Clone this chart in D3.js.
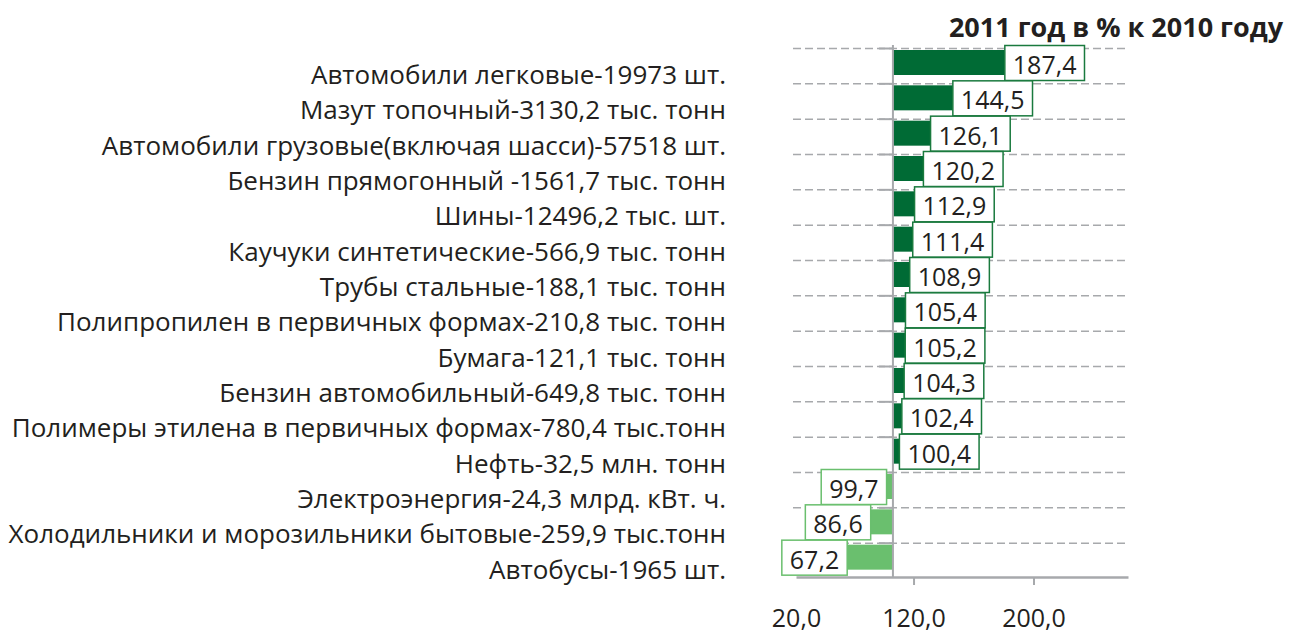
<!DOCTYPE html>
<html>
<head>
<meta charset="utf-8">
<script src="https://cdn.jsdelivr.net/npm/d3@7"></script>
<style>
  body { margin: 0; background: #fff; }
  text { font-family: "Open Sans", "Noto Sans", sans-serif; fill: #231f20; }
</style>
</head>
<body>
<svg id="chart" width="1290" height="633"></svg>
<script>
// категории (сверху вниз) и значения: 2011 год в % к 2010 году
const categories = [
    "Автомобили легковые-19973 шт.",
    "Мазут топочный-3130,2 тыс. тонн",
    "Автомобили грузовые(включая шасси)-57518 шт.",
    "Бензин прямогонный -1561,7 тыс. тонн",
    "Шины-12496,2 тыс. шт.",
    "Каучуки синтетические-566,9 тыс. тонн",
    "Трубы стальные-188,1 тыс. тонн",
    "Полипропилен в первичных формах-210,8 тыс. тонн",
    "Бумага-121,1 тыс. тонн",
    "Бензин автомобильный-649,8 тыс. тонн",
    "Полимеры этилена в первичных формах-780,4 тыс.тонн",
    "Нефть-32,5 млн. тонн",
    "Электроэнергия-24,3 млрд. кВт. ч.",
    "Холодильники и морозильники бытовые-259,9 тыс.тонн",
    "Автобусы-1965 шт."
];
const values = [187.4, 144.5, 126.1, 120.2, 112.9, 111.4, 108.9, 105.4, 105.2, 104.3, 102.4, 100.4, 99.7, 86.6, 67.2];

const baseValue = 100;
const tickValues = [20, 117, 216];
const tickLabels = ["20,0", "120,0", "200,0"];
const title = "2011 год в % к 2010 году";

const darkGreen = "#006b35";
const lightGreen = "#6abf6e";
const gray = "#a7a9ac";

const svg = d3.select("#chart");

const x = d3.scaleLinear().domain([20, 294]).range([796, 1128]);
const y = d3.scaleBand().domain(categories).range([48, 578]);
const x0 = x(baseValue);
const bottom = y.range()[1] - 1;

const fmt = v => d3.format(".1f")(v).replace(".", ",");

// пунктирная сетка по границам строк
svg.append("g")
    .selectAll("line")
    .data(categories)
    .enter()
    .append("line")
    .attr("x1", 793)
    .attr("x2", x.range()[1])
    .attr("y1", d => y(d) + 0.5)
    .attr("y2", d => y(d) + 0.5)
    .attr("stroke", gray)
    .attr("stroke-width", 1.5)
    .attr("stroke-dasharray", "8,4");

// короткие засечки слева от оси
svg.append("g")
    .selectAll("line")
    .data(categories)
    .enter()
    .append("line")
    .attr("x1", x0 - 14)
    .attr("x2", x0)
    .attr("y1", d => y(d) + 0.5)
    .attr("y2", d => y(d) + 0.5)
    .attr("stroke", gray)
    .attr("stroke-width", 2);

// столбики
const pad = 6;
svg.append("g")
    .selectAll("rect")
    .data(values)
    .enter()
    .append("rect")
    .attr("x", d => d >= baseValue ? x0 : x(d) - pad)
    .attr("width", d => Math.abs(x(d) - x0) + pad)
    .attr("y", (d, i) => y(categories[i]) + 2)
    .attr("height", 25)
    .attr("fill", d => d >= baseValue ? darkGreen : lightGreen);

// вертикальная ось (100)
svg.append("line")
    .attr("x1", x0).attr("x2", x0)
    .attr("y1", y.range()[0] - 3).attr("y2", bottom)
    .attr("stroke", gray)
    .attr("stroke-width", 2);

// нижняя ось
const xAxis = d3.axisBottom(x)
    .tickValues(tickValues)
    .tickFormat((d, i) => tickLabels[i])
    .tickSize(8)
    .tickSizeOuter(0)
    .tickPadding(24);

const axisG = svg.append("g")
    .attr("transform", `translate(0,${bottom})`)
    .call(xAxis);
axisG.select(".domain").attr("stroke", gray).attr("stroke-width", 2.5);
axisG.selectAll(".tick line").attr("stroke", gray).attr("stroke-width", 2);
axisG.select(".tick line").remove();
axisG.selectAll(".tick text")
    .attr("font-size", 25)
    .attr("font-family", "'Open Sans', sans-serif")
    .attr("fill", "#231f20");

// подписи значений в рамках
const labels = svg.append("g")
    .selectAll("g")
    .data(values)
    .enter()
    .append("g");

labels.append("rect").attr("class", "box");
labels.append("text")
    .attr("font-size", 25)
    .attr("text-anchor", "middle")
    .text(d => fmt(d));

labels.each(function (d, i) {
    const g = d3.select(this);
    const t = g.select("text");
    const w = t.node().getComputedTextLength() + 16;
    const top = y(categories[i]) - 2.5;
    const bx = d >= baseValue ? x(d) + pad : x(d) - pad - w;
    g.select("rect")
        .attr("x", bx)
        .attr("y", top)
        .attr("width", w)
        .attr("height", 35)
        .attr("fill", "#fff")
        .attr("stroke", d >= baseValue ? "#1a7a3e" : lightGreen)
        .attr("stroke-width", 1.5);
    t.attr("x", bx + w / 2).attr("y", top + 28.5);
});

// названия категорий
svg.append("g")
    .selectAll("text")
    .data(categories)
    .enter()
    .append("text")
    .attr("x", 726)
    .attr("y", d => y(d) + y.bandwidth() + 0.5)
    .attr("text-anchor", "end")
    .attr("font-size", 26)
    .text(d => d);

// заголовок
svg.append("text")
    .attr("x", 1283)
    .attr("y", 37)
    .attr("text-anchor", "end")
    .attr("font-size", 27)
    .attr("font-weight", "bold")
    .text(title);
</script>
</body>
</html>
